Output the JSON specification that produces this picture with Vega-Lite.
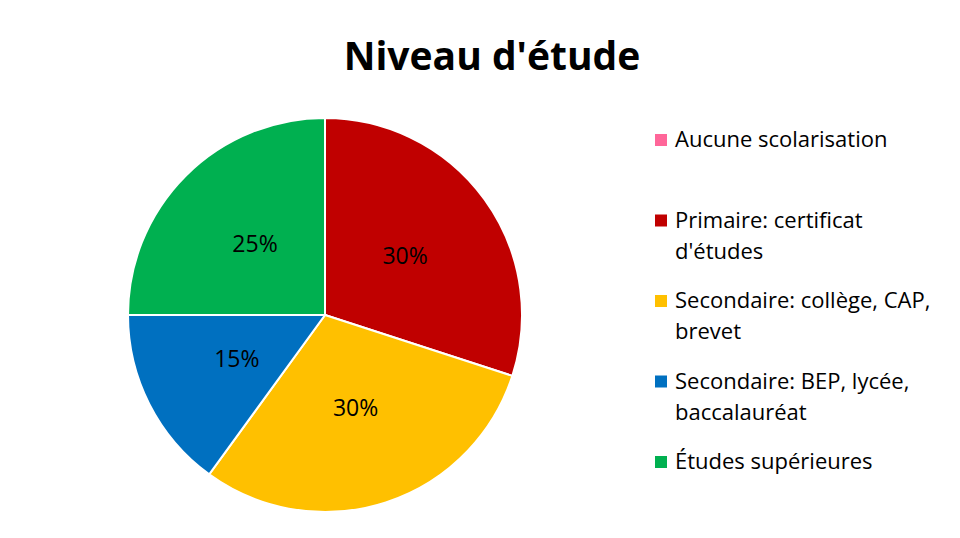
{
  "$schema": "https://vega.github.io/schema/vega-lite/v6.json",
  "width": 394,
  "height": 394,
  "autosize": {"type": "none"},
  "padding": {"left": 128, "top": 118, "right": 438, "bottom": 26},
  "background": "white",
  "title": {
    "text": "Niveau d'étude",
    "font": "Open Sans",
    "fontSize": 39,
    "fontWeight": "bold",
    "color": "#000000",
    "anchor": "middle",
    "dx": 167,
    "offset": 36
  },
  "data": {
    "values": [
      {"niveau": "Aucune scolarisation", "rang": 1, "part": 0, "etiquette": "0%"},
      {"niveau": "Primaire: certificat d'études", "rang": 2, "part": 30, "etiquette": "30%"},
      {"niveau": "Secondaire: collège, CAP, brevet", "rang": 3, "part": 30, "etiquette": "30%"},
      {"niveau": "Secondaire: BEP, lycée, baccalauréat", "rang": 4, "part": 15, "etiquette": "15%"},
      {"niveau": "Études supérieures", "rang": 5, "part": 25, "etiquette": "25%"}
    ]
  },
  "encoding": {
    "theta": {"field": "part", "type": "quantitative", "stack": true},
    "order": {"field": "rang", "type": "quantitative", "sort": "ascending"}
  },
  "layer": [
    {
      "mark": {"type": "arc", "outerRadius": 197, "stroke": "white", "strokeWidth": 2},
      "encoding": {
        "color": {
          "field": "niveau",
          "type": "nominal",
          "sort": null,
          "scale": {
            "domain": ["Aucune scolarisation", "Primaire: certificat d'études", "Secondaire: collège, CAP, brevet", "Secondaire: BEP, lycée, baccalauréat", "Études supérieures"],
            "range": ["#FF6699", "#C00000", "#FFC000", "#0070C0", "#00B050"]
          },
          "legend": {
            "orient": "none",
            "legendX": 522,
            "legendY": 11,
            "title": null,
            "padding": 0,
            "symbolType": "square",
            "symbolSize": 144,
            "symbolStrokeWidth": 0,
            "labelFont": "Open Sans",
            "labelFontSize": 22,
            "labelColor": "#000000",
            "labelOffset": 3,
            "labelLimit": 400,
            "rowPadding": 27.5,
            "labelExpr": "datum.label == 'Aucune scolarisation' ? ['Aucune scolarisation', ''] : datum.label == \"Primaire: certificat d'études\" ? ['Primaire: certificat', \"d'études\"] : datum.label == 'Secondaire: collège, CAP, brevet' ? ['Secondaire: collège, CAP,', 'brevet'] : datum.label == 'Secondaire: BEP, lycée, baccalauréat' ? ['Secondaire: BEP, lycée,', 'baccalauréat'] : [datum.label, '']"
          }
        }
      }
    },
    {
      "transform": [{"filter": "datum.part > 0"}],
      "mark": {"type": "text", "radius": 99, "font": "Open Sans", "fontSize": 23, "color": "#000000", "baseline": "middle", "align": "center"},
      "encoding": {
        "text": {"field": "etiquette", "type": "nominal"}
      }
    }
  ],
  "config": {
    "view": {"stroke": null},
    "style": {"guide-label": {"lineHeight": 31}}
  }
}
